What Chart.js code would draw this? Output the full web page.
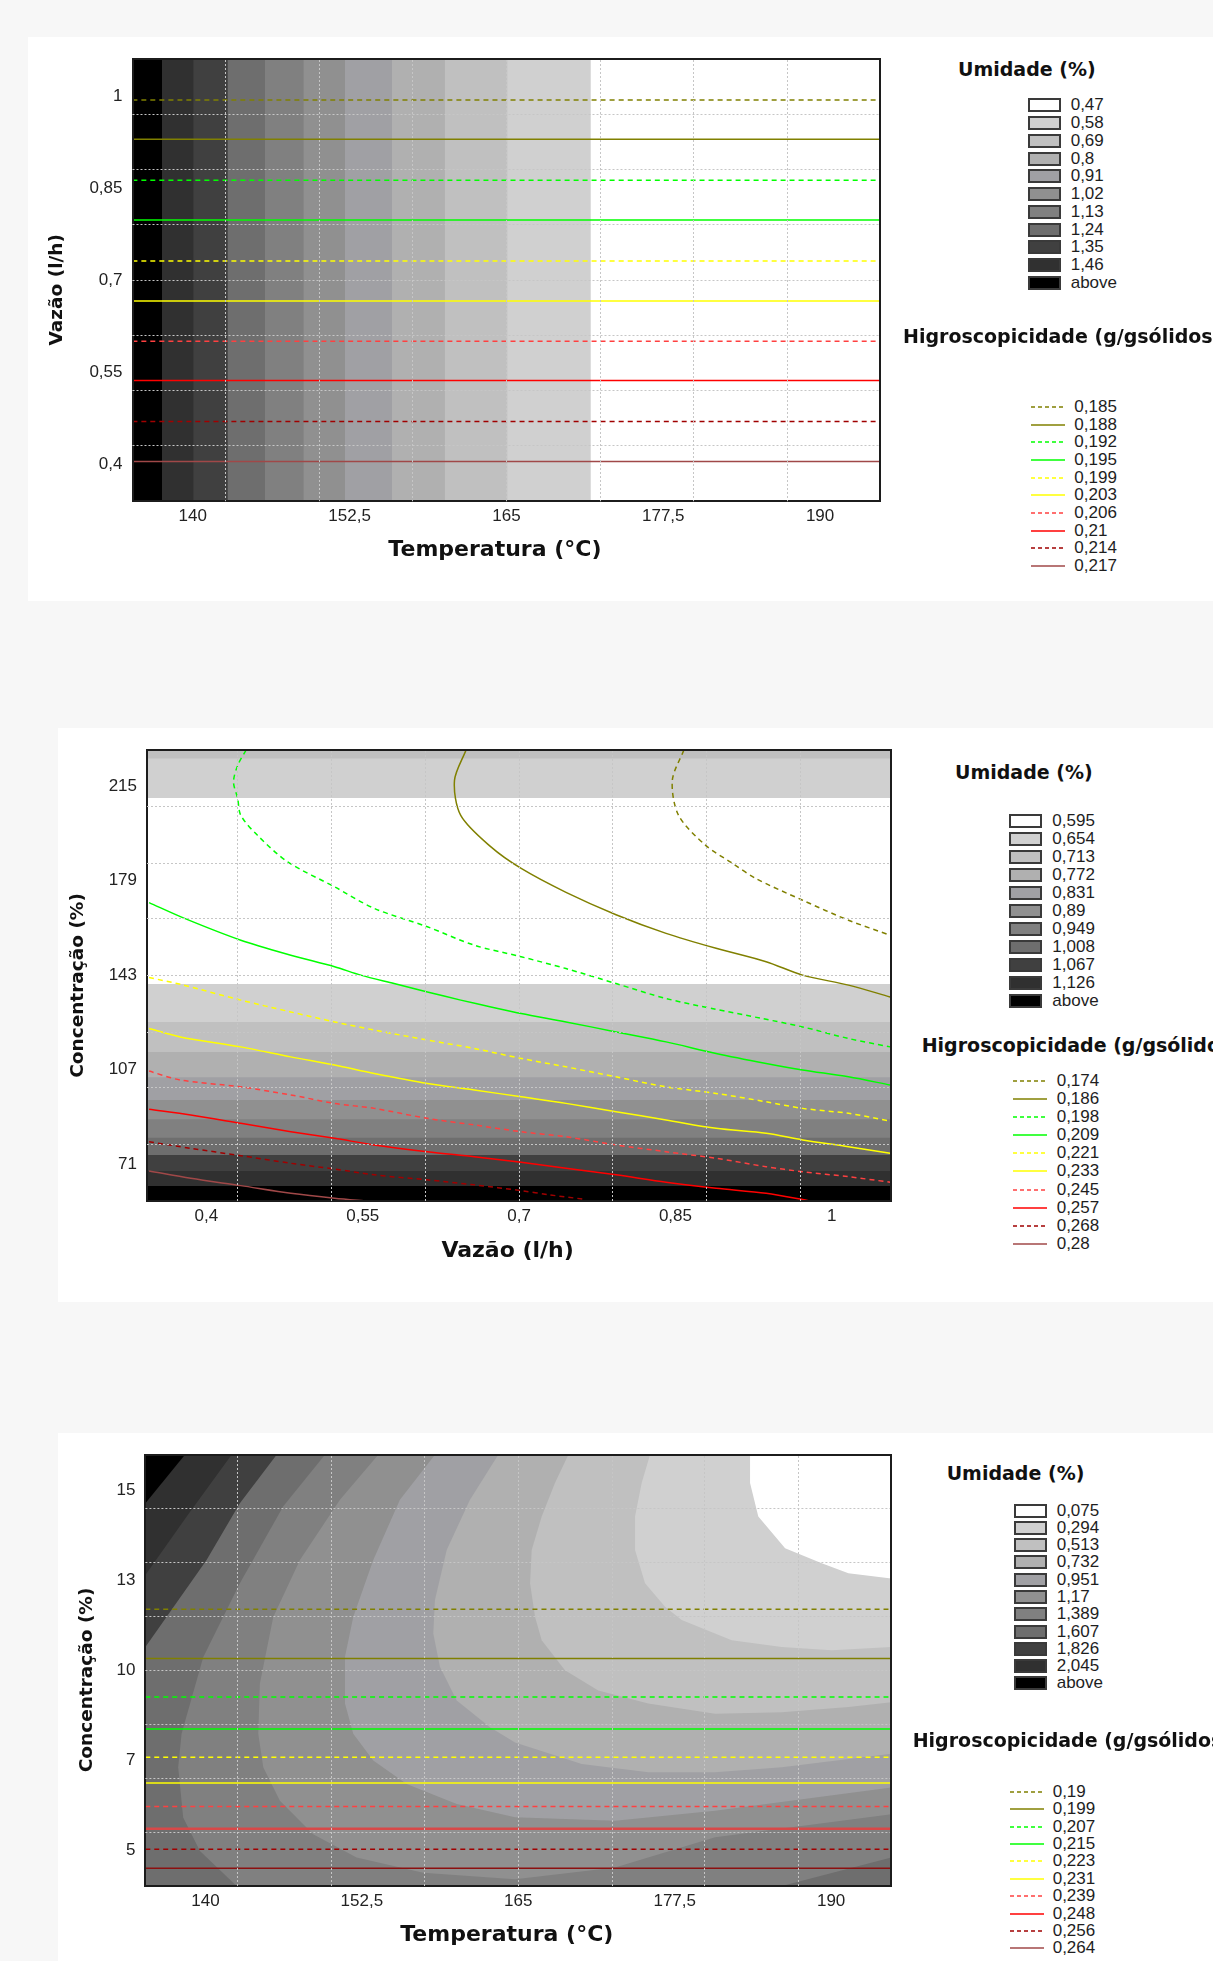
<!DOCTYPE html>
<html lang="pt">
<head>
<meta charset="utf-8">
<title>Umidade e Higroscopicidade</title>
<script src="https://cdn.jsdelivr.net/npm/chart.js@4.4.1/dist/chart.umd.min.js"></script>
<style>
  html, body { margin: 0; padding: 0; }
  body { position: relative; width: 1213px; height: 1961px; overflow: hidden; background: #f7f7f7;
         font-family: "Liberation Sans", Arial, sans-serif; color: #1e1e1e; }
  .card { position: absolute; background: #fff; }
  canvas { position: absolute; }
  .lg { position: absolute; white-space: nowrap; font-size: 17px; line-height: 18px; }
  .lg-title { position: absolute; white-space: nowrap; font-family: "DejaVu Sans", sans-serif;
              font-weight: bold; font-size: 19px; line-height: 24px; color: #111; }
  .sw { position: absolute; box-sizing: border-box; width: 33px; height: 14px; border: 2px solid #3a3a3a; }
  .ln { position: absolute; width: 34px; height: 4px; }
  .ln svg { display: block; }
</style>
</head>
<body>
<div class="card" style="left:28px; top:37px; width:1185px; height:564px"></div>
<div class="card" style="left:58px; top:728px; width:1155px; height:574px"></div>
<div class="card" style="left:58px; top:1433px; width:1155px; height:528px"></div>
<canvas id="chart1" width="880" height="564" style="left:28px; top:37px"></canvas>
<canvas id="chart2" width="860" height="574" style="left:58px; top:728px"></canvas>
<canvas id="chart3" width="860" height="528" style="left:58px; top:1433px"></canvas>
<script>
// ---------- shared palette ----------
const grays = ['#ffffff', '#d0d0d0', '#c0c0c0', '#b0b0b0', '#a0a0a4', '#909090',
               '#808080', '#6e6e6e', '#404040', '#303030', '#000000'];
const hygroColors = ['#808000', '#808000', '#00ff00', '#00ff00', '#ffff00', '#ffff00',
                     '#ff4040', '#ff0000', '#a00000', '#a04848'];
const hygroDashed = [true, false, true, false, true, false, true, false, true, false];

// ---------- legend levels ----------
const umidLevels1 = [0.47, 0.58, 0.69, 0.8, 0.91, 1.02, 1.13, 1.24, 1.35, 1.46];
const hygroLevels1 = [0.185, 0.188, 0.192, 0.195, 0.199, 0.203, 0.206, 0.21, 0.214, 0.217];
const umidLevels2 = [0.595, 0.654, 0.713, 0.772, 0.831, 0.89, 0.949, 1.008, 1.067, 1.126];
const hygroLevels2 = [0.174, 0.186, 0.198, 0.209, 0.221, 0.233, 0.245, 0.257, 0.268, 0.28];
const umidLevels3 = [0.075, 0.294, 0.513, 0.732, 0.951, 1.17, 1.389, 1.607, 1.826, 2.045];
const hygroLevels3 = [0.19, 0.199, 0.207, 0.215, 0.223, 0.231, 0.239, 0.248, 0.256, 0.264];

// ---------- axes ----------
const tempTicks = [140, 152.5, 165, 177.5, 190];
const vazaoTicks = [0.4, 0.55, 0.7, 0.85, 1];
const concTicks2 = [71, 107, 143, 179, 215];
const concTicks3 = [4.8, 7.4, 10, 12.6, 15.2];
const concTickLabels3 = ['5', '7', '10', '13', '15'];

const tempGrid = [142.6, 150.1, 157.5, 165, 172.5, 179.9, 187.4];
const vazaoGrid = [0.43, 0.52, 0.61, 0.7, 0.79, 0.88, 0.97];
const concGrid2 = [78.4, 100.2, 121.3, 143, 164.4, 185.6, 207.3];
const concGrid3 = [5.32, 6.88, 8.44, 10, 11.56, 13.12, 14.68];

const tempRange = [135.2, 194.8];
const vazaoRange1 = [0.339, 1.061];
const vazaoRange2 = [0.343, 1.057];
const concRange2 = [56.9, 228.6];
const concRange3 = [3.78, 16.22];

// ---------- panel 1: Temperatura x Vazão ----------
// umidade bands change only with temperature (left edge of each band)
const tempEdges1 = [135.2, 137.55, 140.04, 142.77, 145.75, 148.82, 152.12, 155.88, 160.08, 165.06, 171.7, 194.8];
const bandShades1 = [10, 9, 8, 7, 6, 5, 4, 3, 2, 1, 0];
// higroscopicidade contours are flat in vazão
const vazaoLines1 = [0.994, 0.930, 0.863, 0.798, 0.731, 0.666, 0.600, 0.536, 0.469, 0.404];

// ---------- panel 2: Vazão x Concentração ----------
const concEdges2 = [228.6, 225.4, 210.4, 139.6, 125.2, 113.8, 104.1, 95.5, 88.2, 81.1, 74.6, 68.5, 62.8, 56.9];
const bandShades2 = [2, 1, 0, 1, 2, 3, 4, 5, 6, 7, 8, 9, 10];

const h174V = [0.858, 0.847, 0.853, 0.879, 0.905, 0.927, 0.972, 1.016, 1.056];
const h174C = [228.6, 217.1, 203.8, 192.4, 185.5, 179.8, 171.5, 163.9, 158.2];
const h186V = [0.649, 0.638, 0.644, 0.673, 0.702, 0.745, 0.793, 0.841, 0.889, 0.937, 0.972, 1.016, 1.056];
const h186C = [228.6, 217.1, 203.8, 191.8, 183.6, 174.5, 166.0, 158.9, 153.2, 148.1, 143.0, 139.2, 134.7];
const h198V = [0.438, 0.430, 0.426, 0.430, 0.433, 0.449, 0.478, 0.523, 0.561, 0.612, 0.657, 0.702, 0.745, 0.793, 0.841, 0.885, 0.933, 0.972, 1.016, 1.056];
const h198C = [228.6, 222.8, 216.5, 210.2, 203.8, 196.2, 186.1, 176.6, 168.4, 161.4, 154.4, 150.0, 145.5, 139.8, 134.1, 130.3, 126.5, 123.3, 118.9, 115.7];
const h209V = [0.345, 0.379, 0.433, 0.481, 0.523, 0.548, 0.580, 0.612, 0.644, 0.673, 0.702, 0.745, 0.793, 0.841, 0.889, 0.937, 0.972, 1.016, 1.056];
const h209C = [170.6, 164.6, 156.3, 150.6, 146.2, 143.0, 139.8, 136.6, 133.5, 130.9, 128.4, 125.2, 121.4, 117.6, 113.2, 109.4, 106.9, 104.3, 101.2];
const hV17 = [0.345, 0.375, 0.433, 0.481, 0.523, 0.561, 0.612, 0.657, 0.702, 0.745, 0.793, 0.841, 0.889, 0.937, 0.972, 1.016, 1.056];
const h221C = [142.1, 139.5, 133.5, 129.0, 125.2, 122.1, 118.3, 115.1, 111.3, 108.1, 104.3, 100.5, 98.0, 94.8, 92.3, 90.4, 87.5];
const h233C = [122.7, 119.5, 115.7, 111.9, 108.8, 105.6, 101.8, 99.3, 96.7, 94.2, 91.0, 87.9, 84.7, 82.8, 80.3, 77.7, 75.2];
const h245C = [106.5, 103.1, 100.5, 97.4, 94.2, 92.3, 88.5, 86.0, 83.4, 81.5, 78.4, 75.8, 73.3, 70.1, 68.2, 66.3, 64.2];
const h257V = [0.345, 0.385, 0.433, 0.481, 0.523, 0.561, 0.612, 0.657, 0.702, 0.745, 0.793, 0.841, 0.889, 0.937, 0.98];
const h257C = [92.0, 89.8, 86.6, 83.4, 80.9, 78.4, 75.8, 73.9, 71.8, 69.5, 67.0, 64.2, 61.9, 60.0, 57.0];
const h268V = [0.345, 0.385, 0.433, 0.481, 0.523, 0.561, 0.612, 0.657, 0.702, 0.729, 0.761];
const h268C = [79.6, 77.1, 74.3, 71.4, 69.2, 67.0, 65.1, 63.2, 61.0, 59.4, 57.8];
const h280V = [0.345, 0.385, 0.433, 0.481, 0.523, 0.555];
const h280C = [68.5, 65.7, 62.9, 60.0, 58.1, 57.0];

// ---------- panel 3: Temperatura x Concentração ----------
// iso-umidade boundaries, lighter side to the right / top-right
const u3b1389T = [149.55, 146.22, 142.75, 139.82, 138.09, 137.82, 138.22, 139.56, 142.49, 186.06, 194.8];
const u3b1389C = [16.22, 14.73, 12.51, 10.38, 8.17, 7.20, 5.75, 4.79, 3.78, 3.78, 4.60];
const u3b117T = [153.81, 150.75, 147.55, 145.42, 144.35, 144.22, 144.62, 145.95, 148.61, 152.08, 157.41, 164.74, 172.73, 180.72, 194.8];
const u3b117C = [16.22, 14.92, 13.18, 11.54, 9.62, 8.17, 7.20, 6.24, 5.27, 4.60, 4.16, 3.97, 4.31, 5.18, 5.85];
const u3b0951T = [158.34, 155.54, 153.41, 151.81, 151.15, 151.15, 151.81, 153.41, 156.08, 160.08, 164.74, 172.73, 180.72, 194.8];
const u3b0951C = [16.22, 14.92, 13.18, 11.54, 10.39, 9.04, 8.17, 7.40, 6.72, 6.14, 5.76, 5.66, 5.95, 6.62];
const u3b0732T = [163.40, 161.14, 159.28, 158.34, 158.21, 158.74, 160.08, 162.74, 164.74, 170.07, 175.39, 180.72, 186.06, 194.8];
const u3b0732C = [16.22, 14.92, 13.47, 12.03, 11.06, 10.10, 9.13, 8.36, 7.92, 7.30, 7.06, 7.06, 7.20, 7.59];
const u3b0513T = [169.0, 167.93, 166.87, 166.07, 165.94, 166.34, 166.87, 168.73, 171.39, 175.39, 180.72, 186.06, 191.38, 194.8];
const u3b0513C = [16.22, 15.40, 14.44, 13.47, 12.51, 11.54, 10.87, 10.0, 9.42, 9.04, 8.75, 8.79, 8.94, 9.08];
const u3b0294T = [175.53, 174.86, 174.33, 174.33, 175.13, 176.73, 178.06, 182.06, 186.06, 190.05, 194.8];
const u3b0294C = [16.22, 15.40, 14.44, 13.47, 12.51, 11.83, 11.45, 10.87, 10.67, 10.58, 10.67];
const u3b0075T = [183.52, 183.52, 184.18, 186.32, 189.25, 191.38, 194.8];
const u3b0075C = [16.22, 15.40, 14.44, 13.52, 13.09, 12.80, 12.65];
// darker corner at low temperature / high concentration
const u3b1826T = [145.69, 142.75, 140.09, 135.2];
const u3b1826C = [16.22, 14.82, 13.18, 10.67];
const u3b2045T = [142.09, 138.5, 135.2];
const u3b2045C = [16.22, 14.44, 12.75];
const u3bAboveT = [138.36, 135.2];
const u3bAboveC = [16.22, 14.82];
// horizontal higroscopicidade contours
const concLines3 = [11.76, 10.34, 9.23, 8.31, 7.49, 6.75, 6.07, 5.43, 4.84, 4.29];
const lineWidths3 = [1.5, 1.5, 1.5, 1.5, 1.5, 1.5, 1.5, 2.5, 1.5, 1.5];
const lineColors3 = ['#808000', '#808000', '#00ff00', '#00ff00', '#ffff00', '#ffff00',
                     '#ff4040', '#d84848', '#a00000', '#8b1010'];

// ---------- helpers ----------
const fmt = v => String(v).replace('.', ',');
const xy = (xs, ys) => xs.map((x, i) => ({ x, y: ys[i] }));
let drawRank = 0;

function area(points, shade, fill) {
  return {
    data: points, fill: fill, backgroundColor: grays[shade],
    borderWidth: 0, pointRadius: 0, order: 1000 - (drawRank++),
    xAxisID: 'x', yAxisID: 'y'
  };
}

function contour(points, i, width, color) {
  return {
    data: points, borderColor: color || hygroColors[i], borderWidth: width || 1.5,
    borderDash: hygroDashed[i] ? [5, 4] : [], pointRadius: 0,
    fill: false, tension: 0.3, order: 0, xAxisID: 'x', yAxisID: 'y'
  };
}

const tickFont = { family: 'Liberation Sans', size: 17 };
const xTitleFont = { family: 'DejaVu Sans', size: 22, weight: 'bold' };
const yTitleFont = { family: 'DejaVu Sans', size: 18.5, weight: 'bold' };
const frameColor = '#1c1c1c';
const gridColor = '#c6c6c6';
// titles sit a little off the plot centre in the original export
const xTitleShift = '\u00a0\u00a0\u00a0';
const yTitleShift = '\u00a0\u00a0\u00a0';

function makeChart(id, p, datasets) {
  const setTicks = vals => a => { a.ticks = vals.map(v => ({ value: v })); };
  return new Chart(document.getElementById(id), {
    type: 'line',
    data: { datasets },
    options: {
      responsive: false,
      animation: false,
      devicePixelRatio: 1,
      events: [],
      layout: { padding: { left: 0, top: p.padTop, right: p.padRight, bottom: 0 } },
      plugins: { legend: { display: false }, tooltip: { enabled: false } },
      scales: {
        x: {
          type: 'linear', axis: 'x', position: 'bottom', bounds: 'data',
          min: p.xRange[0], max: p.xRange[1],
          afterBuildTicks: setTicks(p.xTicks),
          afterFit: a => { a.height = p.xAxisH; },
          grid: { display: false, drawTicks: false },
          border: { display: true, color: frameColor, width: 2, z: 1 },
          ticks: { font: tickFont, color: '#222', padding: 5, maxRotation: 0, autoSkip: false,
                   callback: (v, i) => p.xLabels[i] },
          title: { display: true, text: p.xTitle + xTitleShift, font: xTitleFont, color: '#111',
                   padding: { top: 0, bottom: p.xTitlePad } }
        },
        y: {
          type: 'linear', axis: 'y', position: 'left', bounds: 'data',
          min: p.yRange[0], max: p.yRange[1],
          afterBuildTicks: setTicks(p.yTicks),
          afterFit: a => { a.width = p.yAxisW; },
          grid: { display: false, drawTicks: false },
          border: { display: true, color: frameColor, width: 2, z: 1 },
          ticks: { font: tickFont, color: '#222', padding: 10, autoSkip: false,
                   callback: (v, i) => p.yLabels[i] },
          title: { display: true, text: p.yTitle + yTitleShift, font: yTitleFont, color: '#111',
                   padding: { top: p.yTitlePad, bottom: 0 } }
        },
        gx: {
          type: 'linear', axis: 'x', position: 'top', bounds: 'data',
          min: p.xRange[0], max: p.xRange[1],
          afterBuildTicks: setTicks(p.xGrid),
          afterFit: a => { a.height = 0; },
          grid: { color: gridColor, lineWidth: 1, drawTicks: false, z: 1 },
          border: { display: true, color: frameColor, width: 2, dash: [2, 2], z: 1 },
          ticks: { display: false }
        },
        gy: {
          type: 'linear', axis: 'y', position: 'right', bounds: 'data',
          min: p.yRange[0], max: p.yRange[1],
          afterBuildTicks: setTicks(p.yGrid),
          afterFit: a => { a.width = 0; },
          grid: { color: gridColor, lineWidth: 1, drawTicks: false, z: 1 },
          border: { display: true, color: frameColor, width: 2, dash: [2, 2], z: 1 },
          ticks: { display: false }
        }
      }
    }
  });
}

// ---------- panel 1 ----------
const ds1 = [];
tempEdges1.slice(0, -1).forEach((t, i) => {
  ds1.push(area([{ x: t, y: vazaoRange1[1] }, { x: tempRange[1], y: vazaoRange1[1] }], bandShades1[i], 'start'));
});
vazaoLines1.forEach((v, i) => {
  ds1.push(contour([{ x: tempRange[0], y: v }, { x: tempRange[1], y: v }], i));
});
makeChart('chart1', {
  xRange: tempRange, yRange: vazaoRange1,
  xTicks: tempTicks, xLabels: tempTicks.map(fmt), yTicks: vazaoTicks, yLabels: vazaoTicks.map(fmt),
  xGrid: tempGrid, yGrid: vazaoGrid,
  xTitle: 'Temperatura (°C)', yTitle: 'Vazão (l/h)',
  padTop: 22, padRight: 27.7, xAxisH: 99.8, yAxisW: 104.5, xTitlePad: 37.3, yTitlePad: 18.4
}, ds1);

// ---------- panel 2 ----------
const ds2 = [];
concEdges2.slice(0, -1).forEach((c, i) => {
  ds2.push(area([{ x: vazaoRange2[0], y: c }, { x: vazaoRange2[1], y: c }], bandShades2[i], 'start'));
});
const curves2 = [
  [h174V, h174C], [h186V, h186C], [h198V, h198C], [h209V, h209C], [hV17, h221C],
  [hV17, h233C], [hV17, h245C], [h257V, h257C], [h268V, h268C], [h280V, h280C]
];
curves2.forEach(([v, c], i) => ds2.push(contour(xy(v, c), i)));
makeChart('chart2', {
  xRange: vazaoRange2, yRange: concRange2,
  xTicks: vazaoTicks, xLabels: vazaoTicks.map(fmt), yTicks: concTicks2, yLabels: concTicks2.map(fmt),
  xGrid: vazaoGrid, yGrid: concGrid2,
  xTitle: 'Vazão (l/h)', yTitle: 'Concentração (%)',
  padTop: 22.2, padRight: 26.8, xAxisH: 100.6, yAxisW: 89, xTitlePad: 37.3, yTitlePad: 9.5
}, ds2);

// ---------- panel 3 ----------
const ds3 = [];
ds3.push(area([{ x: tempRange[0], y: concRange3[1] }, { x: tempRange[1], y: concRange3[1] }], 7, 'start'));
const topRight = { x: tempRange[1], y: concRange3[1] };
const topLeft = { x: tempRange[0], y: concRange3[1] };
[[u3b1389T, u3b1389C, 6], [u3b117T, u3b117C, 5], [u3b0951T, u3b0951C, 4], [u3b0732T, u3b0732C, 3],
 [u3b0513T, u3b0513C, 2], [u3b0294T, u3b0294C, 1], [u3b0075T, u3b0075C, 0]
].forEach(([t, c, s]) => ds3.push(area(xy(t, c).concat([topRight]), s, 'shape')));
[[u3b1826T, u3b1826C, 8], [u3b2045T, u3b2045C, 9], [u3bAboveT, u3bAboveC, 10]
].forEach(([t, c, s]) => ds3.push(area(xy(t, c).concat([topLeft]), s, 'shape')));
concLines3.forEach((c, i) => {
  ds3.push(contour([{ x: tempRange[0], y: c }, { x: tempRange[1], y: c }], i, lineWidths3[i], lineColors3[i]));
});
makeChart('chart3', {
  xRange: tempRange, yRange: concRange3,
  xTicks: tempTicks, xLabels: tempTicks.map(fmt), yTicks: concTicks3, yLabels: concTickLabels3,
  xGrid: tempGrid, yGrid: concGrid3,
  xTitle: 'Temperatura (°C)', yTitle: 'Concentração (%)',
  padTop: 21.7, padRight: 26.8, xAxisH: 75.1, yAxisW: 87.4, xTitlePad: 12.3, yTitlePad: 18.4
}, ds3);

// ---------- legends (HTML, right of each plot) ----------
function place(cls, left, cy, h) {
  const el = document.createElement('div');
  el.className = cls;
  el.style.left = left + 'px';
  el.style.top = (cy - h / 2) + 'px';
  document.body.appendChild(el);
  return el;
}

function buildLegend(L, umid, hygro) {
  place('lg-title', L.umidTitle[0], L.umidTitle[1], 24).textContent = 'Umidade (%)';
  umid.map(fmt).concat(['above']).forEach((txt, i) => {
    const cy = L.swY0 + i * L.swStep;
    place('sw', L.swX, cy, 14).style.background = grays[i];
    place('lg', L.swLabelX, cy, 18).textContent = txt;
  });
  place('lg-title', L.hygTitle[0], L.hygTitle[1], 24).textContent = 'Higroscopicidade (g/gsólidos)';
  hygro.forEach((v, i) => {
    const cy = L.lnY0 + i * L.lnStep;
    const dash = hygroDashed[i] ? ' stroke-dasharray="4 3"' : '';
    place('ln', L.lnX, cy, 4).innerHTML =
      '<svg width="34" height="4"><line x1="0" y1="2" x2="34" y2="2" stroke="' + hygroColors[i] +
      '" stroke-width="1.5"' + dash + '/></svg>';
    place('lg', L.lnLabelX, cy, 18).textContent = fmt(v);
  });
}

buildLegend({ umidTitle: [958, 68.8], swX: 1028, swY0: 105.4, swStep: 17.75, swLabelX: 1070.7,
              hygTitle: [903, 336.4], lnX: 1031, lnY0: 406.8, lnStep: 17.7, lnLabelX: 1074.3 },
            umidLevels1, hygroLevels1);
buildLegend({ umidTitle: [955, 771.7], swX: 1009.3, swY0: 821, swStep: 17.97, swLabelX: 1052.3,
              hygTitle: [921.7, 1045], lnX: 1013.3, lnY0: 1080.7, lnStep: 18.15, lnLabelX: 1056.7 },
            umidLevels2, hygroLevels2);
buildLegend({ umidTitle: [946.7, 1473.3], swX: 1014.3, swY0: 1510.7, swStep: 17.26, swLabelX: 1056.7,
              hygTitle: [912.7, 1740], lnX: 1010, lnY0: 1791.7, lnStep: 17.4, lnLabelX: 1052.7 },
            umidLevels3, hygroLevels3);
</script>
</body>
</html>
